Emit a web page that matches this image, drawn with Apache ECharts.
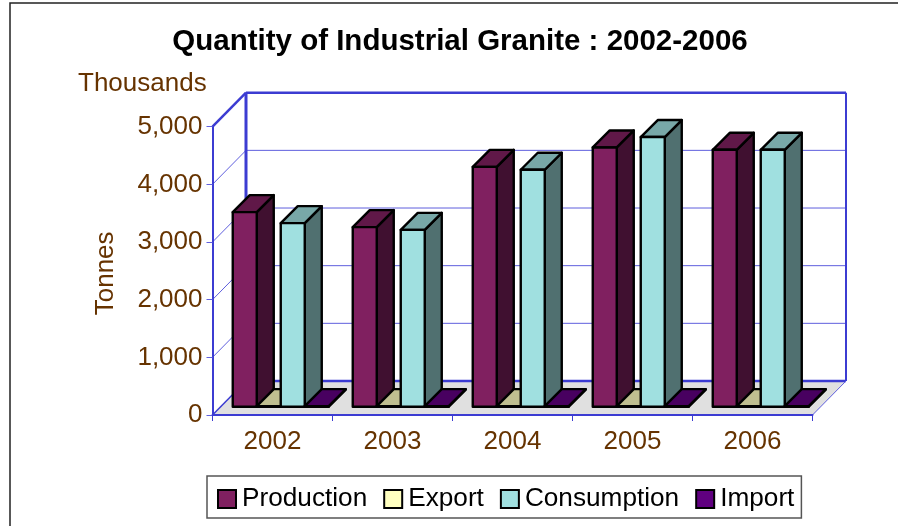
<!DOCTYPE html>
<html>
<head>
<meta charset="utf-8">
<style>
  html, body { margin: 0; padding: 0; background: #fff; }
  #chart { width: 898px; height: 526px; }
</style>
<script src="https://cdn.jsdelivr.net/npm/echarts@6/dist/echarts.min.js"></script>
</head>
<body>
<div id="chart"></div>
<script>
// values in thousands of tonnes
var years = ['2002', '2003', '2004', '2005', '2006']
var production = [3375, 3115, 4161, 4497, 4456]
var exportQty = [10, 10, 10, 10, 10]
var consumption = [3184, 3068, 4110, 4677, 4456]
var importQty = [10, 10, 10, 10, 10]
var tonneTicks = [0, 1000, 2000, 3000, 4000, 5000]

var FONT = '"Liberation Sans", Arial, sans-serif'
var BROWN = '#663300'
var BLUE = '#3c3cd2'
var THIN_BLUE = '#5f5fde'

// depth of the fake 3d box
var WALL_DX = 33.5, WALL_DY = 34
var BAR_DX = 17, BAR_DY = 17
var BAR_INSET = 8.25
var BAR_W = 24

function poly(points, fill) {
  return {
    type: 'polygon',
    shape: { points: points },
    style: { fill: fill, stroke: '#000', lineWidth: 2.4, lineJoin: 'round' }
  }
}

function line(x1, y1, x2, y2, color, width) {
  return {
    type: 'line',
    shape: { x1: x1, y1: y1, x2: x2, y2: y2 },
    style: { stroke: color, lineWidth: width }
  }
}

function wallItem(params, api) {
  var cs = params.coordSys
  var v = api.value(0)
  var y = api.coord([0, v])[1]
  var left = cs.x, right = cs.x + cs.width
  var kids = []
  if (v === 0) {
    kids.push({
      type: 'polygon',
      shape: { points: [[left, y], [right, y], [right + WALL_DX, y - WALL_DY], [left + WALL_DX, y - WALL_DY]] },
      style: { fill: '#e0e0e0' }
    })
    kids.push(line(left + WALL_DX, y - WALL_DY, right + WALL_DX, y - WALL_DY, BLUE, 2.5))
    kids.push(line(left, y, left + WALL_DX, y - WALL_DY, BLUE, 1.5))
    kids.push(line(right, y, right + WALL_DX, y - WALL_DY, THIN_BLUE, 1))
  } else if (v === tonneTicks[tonneTicks.length - 1]) {
    var floorY = api.coord([0, 0])[1] - WALL_DY
    kids.push(line(left, y, left + WALL_DX, y - WALL_DY, BLUE, 2.5))
    kids.push(line(left + WALL_DX, y - WALL_DY, right + WALL_DX, y - WALL_DY, BLUE, 2.5))
    kids.push(line(left + WALL_DX, y - WALL_DY, left + WALL_DX, floorY, BLUE, 3))
    kids.push(line(right + WALL_DX, y - WALL_DY, right + WALL_DX, floorY, BLUE, 2))
  } else {
    kids.push(line(left, y, left + WALL_DX, y - WALL_DY, THIN_BLUE, 1))
    kids.push(line(left + WALL_DX, y - WALL_DY, right + WALL_DX, y - WALL_DY, THIN_BLUE, 1))
  }
  return { type: 'group', children: kids }
}

function barItem(slot, color, topColor, sideColor) {
  return function (params, api) {
    var cat = api.value(0)
    var top = api.coord([cat, api.value(1)])
    var base = api.coord([cat, 0])
    // the bars stand inside the floor, not on its front edge
    var x = base[0] + BAR_INSET - BAR_W * 2 + slot * BAR_W
    var yTop = top[1] - BAR_INSET
    var yBase = base[1] - BAR_INSET
    var x2 = x + BAR_W
    return {
      type: 'group',
      children: [
        poly([[x2, yTop], [x2 + BAR_DX, yTop - BAR_DY], [x2 + BAR_DX, yBase - BAR_DY], [x2, yBase]], sideColor),
        poly([[x, yTop], [x + BAR_DX, yTop - BAR_DY], [x2 + BAR_DX, yTop - BAR_DY], [x2, yTop]], topColor),
        poly([[x, yTop], [x2, yTop], [x2, yBase], [x, yBase]], color)
      ]
    }
  }
}

function barSeries(name, values, slot, color, topColor, sideColor) {
  return {
    name: name,
    type: 'custom',
    clip: false,
    z: 3 + slot,
    itemStyle: { color: color },
    renderItem: barItem(slot, color, topColor, sideColor),
    data: values.map(function (v, i) { return [i, v] })
  }
}

var chart = echarts.init(document.getElementById('chart'))
chart.setOption({
  animation: false,
  backgroundColor: '#fff',
  textStyle: { fontFamily: FONT },
  title: [
    {
      text: 'Quantity of Industrial Granite : 2002-2006',
      left: 455, top: 22, textAlign: 'center',
      textStyle: { fontFamily: FONT, fontSize: 29.5, fontWeight: 'bold', color: '#000' }
    },
    {
      text: 'Thousands',
      left: 73, top: 66,
      textStyle: { fontFamily: FONT, fontSize: 26, fontWeight: 'normal', color: BROWN }
    }
  ],
  graphic: [{
    type: 'rect',
    shape: { x: 10, y: 3, width: 1000, height: 700 },
    style: { fill: 'none', stroke: '#222', lineWidth: 1.5 }
  }],
  legend: {
    data: ['Production', 'Export', 'Consumption', 'Import'],
    left: 207, top: 476,
    width: 596,
    padding: [10, 7, 6, 10],
    itemWidth: 18, itemHeight: 18, itemGap: 16,
    borderColor: '#555', borderWidth: 1.5, borderRadius: 0,
    icon: 'rect',
    itemStyle: { borderColor: '#000', borderWidth: 2 },
    textStyle: { fontFamily: FONT, fontSize: 26.2, color: '#000', padding: [0, 0, 0, 1] },
    selectedMode: false
  },
  grid: { left: 212.5, top: 126.7, width: 600, height: 288.3, containLabel: false },
  xAxis: {
    type: 'category',
    data: years,
    z: 8,
    axisLine: { lineStyle: { color: BLUE, width: 2 } },
    axisTick: { show: true, alignWithLabel: false, length: 6, lineStyle: { color: BLUE, width: 1 } },
    axisLabel: { fontFamily: FONT, fontSize: 26, color: BROWN, margin: 14 }
  },
  yAxis: {
    type: 'value',
    min: 0, max: 5000, interval: 1000,
    name: 'Tonnes',
    nameLocation: 'middle',
    nameGap: 94,
    nameTextStyle: { fontFamily: FONT, fontSize: 26, color: BROWN, padding: [0, 5, 0, 0] },
    z: 8,
    splitLine: { show: false },
    axisLine: { show: true, lineStyle: { color: BLUE, width: 2 } },
    axisTick: { show: true, length: 6, lineStyle: { color: THIN_BLUE, width: 1 } },
    axisLabel: { fontFamily: FONT, fontSize: 26, color: BROWN, margin: 10, padding: [0, 0, 2, 0] }
  },
  series: [
    {
      type: 'custom',
      name: 'walls',
      clip: false,
      z: 1,
      renderItem: wallItem,
      encode: { y: 0 },
      data: tonneTicks.map(function (v) { return [v] })
    },
    barSeries('Production', production, 0, '#802060', '#601848', '#401030'),
    barSeries('Export', exportQty, 1, '#ffffc0', '#bfbf90', '#808060'),
    barSeries('Consumption', consumption, 2, '#a0e0e0', '#78a8a8', '#507070'),
    barSeries('Import', importQty, 3, '#600080', '#480060', '#300040')
  ]
})
</script>
</body>
</html>
